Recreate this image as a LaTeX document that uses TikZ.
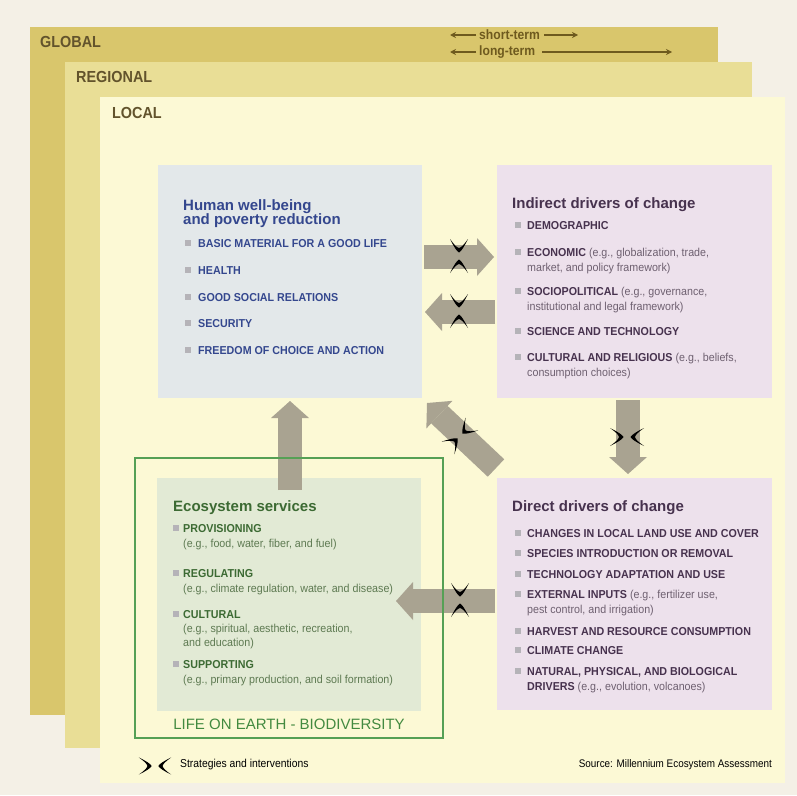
\documentclass[tikz,border=0pt]{standalone}
\usepackage{fontspec}
\setmainfont{Liberation Sans}
\newfontfamily\cnd[FakeStretch=0.93]{Liberation Sans}
\newfontfamily\cndd[FakeStretch=0.9]{Liberation Sans}
\usetikzlibrary{arrows.meta,calc}
\definecolor{bg}{HTML}{F4F0E6}
\definecolor{cglobal}{HTML}{D9C66C}
\definecolor{cregional}{HTML}{E9DE96}
\definecolor{clocal}{HTML}{FCF9D5}
\definecolor{chw}{HTML}{E3E8EA}
\definecolor{cpur}{HTML}{EDE1EC}
\definecolor{ceco}{HTML}{E2EAD5}
\definecolor{carrow}{HTML}{A9A391}
\definecolor{cframe}{HTML}{55A055}
\definecolor{tscale}{HTML}{62532C}
\definecolor{tblue}{HTML}{34478E}
\definecolor{tpur}{HTML}{47324E}
\definecolor{tpurl}{HTML}{6E6070}
\definecolor{tgreen}{HTML}{3C6A33}
\definecolor{tgreenl}{HTML}{5E7A52}
\definecolor{cbullet}{HTML}{B5B3B8}
\definecolor{tarr}{HTML}{6E5A1E}
\definecolor{tlife}{HTML}{438A40}
\begin{document}
\begin{tikzpicture}[x=1pt,y=-1pt,
  zone/.style={inner sep=0pt, outer sep=0pt, anchor=north west},
  zonelbl/.style={anchor=west, inner sep=0pt, font=\cndd\bfseries\fontsize{16}{16}\selectfont, text=tscale},
  card/.style={inner sep=0pt, outer sep=0pt, anchor=north west},
  ttl/.style={anchor=north west, inner sep=0pt, align=left, font=\bfseries\fontsize{15}{14.5}\selectfont},
  itm/.style={anchor=north west, inner sep=0pt, align=left, font=\cnd\fontsize{11.5}{15}\selectfont},
  bitm/.style={itm, font=\cnd\bfseries\fontsize{11.5}{15}\selectfont},
  bul/.style={fill=cbullet, minimum size=6pt, inner sep=0pt, anchor=center},
  bigarrow/.style={draw=carrow, line width=24pt, -{Triangle[length=17pt,width=38pt,line width=0pt]}},
  scl/.style={anchor=west, inner sep=0pt, text=tarr, font=\cndd\bfseries\fontsize{13.5}{14}\selectfont},
  sclarrow/.style={draw=tarr, line width=1.1pt, -{Stealth[length=6pt,width=6pt]}},
  strat/.pic={
    \fill[black] (-9,-17) .. controls (-5,-9) and (-2.5,-5) .. (0,-3.5)
      .. controls (2.5,-5) and (5,-9) .. (9,-17)
      .. controls (5,-11.5) and (2.5,-8.5) .. (0,-8)
      .. controls (-2.5,-8.5) and (-5,-11.5) .. (-9,-17) -- cycle;
    \fill[black] (-9,17) .. controls (-5,9) and (-2.5,5) .. (0,3.5)
      .. controls (2.5,5) and (5,9) .. (9,17)
      .. controls (5,11.5) and (2.5,8.5) .. (0,8)
      .. controls (-2.5,8.5) and (-5,11.5) .. (-9,17) -- cycle;
  }]
\useasboundingbox (0,0) rectangle (797,795);
\fill[bg] (0,0) rectangle (797,795);

% scale zones
\node[zone, fill=cglobal, minimum width=688pt, minimum height=688pt] (global) at (30,27) {};
\node[zone, fill=cregional, minimum width=687pt, minimum height=686pt] (regional) at (65,62) {};
\node[zone, fill=clocal, minimum width=685pt, minimum height=686pt] (local) at (100,97) {};
\node[zonelbl] (tglobal) at (40,42) {GLOBAL};
\node[zonelbl] (tregional) at (76,77) {REGIONAL};
\node[zonelbl] (tlocal) at (112,113) {LOCAL};

% time scale
\node[scl] (tshort) at (479,35) {short-term};
\node[scl] (tlong) at (479,52) {long-term};
\coordinate (sl) at (450,35);
\coordinate (sr) at (578,35);
\coordinate (ll) at (450,52);
\coordinate (lr) at (672,52);
\draw[sclarrow] ([xshift=-3pt]tshort.west) -- (sl);
\draw[sclarrow] ([xshift=4pt]tshort.east) -- (sr);
\draw[sclarrow] ([xshift=-3pt]tlong.west) -- (ll);
\draw[sclarrow] ([xshift=7pt]tlong.east) -- (lr);

% cards
\node[card, fill=chw, minimum width=264pt, minimum height=233pt] (hw) at (158,165) {};
\node[card, fill=cpur, minimum width=275pt, minimum height=233pt] (ind) at (497,165) {};
\node[card, fill=cpur, minimum width=275pt, minimum height=232pt] (dir) at (497,478) {};
\node[card, fill=ceco, minimum width=264pt, minimum height=233pt] (eco) at (157,478) {};

% Human well-being
\node[ttl, text=tblue] (hwt) at (183,199) {Human well-being\\and poverty reduction};
\begin{scope}[every node/.append style={text=tblue}]
\node[bul] (hb1) at (188,243) {};
\node[bitm] (hi1) at (198,239) {BASIC MATERIAL FOR A GOOD LIFE};
\node[bul] (hb2) at (188,270) {};
\node[bitm] (hi2) at (198,266) {HEALTH};
\node[bul] (hb3) at (188,297) {};
\node[bitm] (hi3) at (198,293) {GOOD SOCIAL RELATIONS};
\node[bul] (hb4) at (188,323) {};
\node[bitm] (hi4) at (198,319) {SECURITY};
\node[bul] (hb5) at (188,350) {};
\node[bitm] (hi5) at (198,346) {FREEDOM OF CHOICE AND ACTION};
\end{scope}

% Indirect drivers
\node[ttl, text=tpur] (indt) at (512,197) {Indirect drivers of change};
\begin{scope}[every node/.append style={text=tpurl}]
\node[bul] (ib1) at (518,225) {};
\node[itm] (ii1) at (527,221) {\textcolor{tpur}{\bfseries DEMOGRAPHIC}};
\node[bul] (ib2) at (518,252) {};
\node[itm] (ii2) at (527,247.5) {\textcolor{tpur}{\bfseries ECONOMIC} (e.g., globalization, trade,\\market, and policy framework)};
\node[bul] (ib3) at (518,291) {};
\node[itm] (ii3) at (527,286.5) {\textcolor{tpur}{\bfseries SOCIOPOLITICAL} (e.g., governance,\\institutional and legal framework)};
\node[bul] (ib4) at (518,331) {};
\node[itm] (ii4) at (527,327) {\textcolor{tpur}{\bfseries SCIENCE AND TECHNOLOGY}};
\node[bul] (ib5) at (518,357) {};
\node[itm] (ii5) at (527,352.5) {\textcolor{tpur}{\bfseries CULTURAL AND RELIGIOUS} (e.g., beliefs,\\consumption choices)};
\end{scope}

% Direct drivers
\node[ttl, text=tpur] (dirt) at (512,500) {Direct drivers of change};
\begin{scope}[every node/.append style={text=tpurl}]
\node[bul] (db1) at (518,533) {};
\node[itm] (di1) at (527,529) {\textcolor{tpur}{\bfseries CHANGES IN LOCAL LAND USE AND COVER}};
\node[bul] (db2) at (518,553) {};
\node[itm] (di2) at (527,549) {\textcolor{tpur}{\bfseries SPECIES INTRODUCTION OR REMOVAL}};
\node[bul] (db3) at (518,574) {};
\node[itm] (di3) at (527,570) {\textcolor{tpur}{\bfseries TECHNOLOGY ADAPTATION AND USE}};
\node[bul] (db4) at (518,594) {};
\node[itm] (di4) at (527,589.5) {\textcolor{tpur}{\bfseries EXTERNAL INPUTS} (e.g., fertilizer use,\\pest control, and irrigation)};
\node[bul] (db5) at (518,631) {};
\node[itm] (di5) at (527,627) {\textcolor{tpur}{\bfseries HARVEST AND RESOURCE CONSUMPTION}};
\node[bul] (db6) at (518,650) {};
\node[itm] (di6) at (527,646) {\textcolor{tpur}{\bfseries CLIMATE CHANGE}};
\node[bul] (db7) at (518,671) {};
\node[itm] (di7) at (527,667) {\textcolor{tpur}{\bfseries NATURAL, PHYSICAL, AND BIOLOGICAL}\\\textcolor{tpur}{\bfseries DRIVERS} (e.g., evolution, volcanoes)};
\end{scope}

% Ecosystem services
\node[ttl, text=tgreen] (ecot) at (173,500) {Ecosystem services};
\begin{scope}[every node/.append style={text=tgreenl}]
\node[bul] (eb1) at (176,528) {};
\node[itm] (ei1) at (183,524) {\textcolor{tgreen}{\bfseries PROVISIONING}\\(e.g., food, water, fiber, and fuel)};
\node[bul] (eb2) at (176,573) {};
\node[itm] (ei2) at (183,569) {\textcolor{tgreen}{\bfseries REGULATING}\\(e.g., climate regulation, water, and disease)};
\node[bul] (eb3) at (176,614) {};
\node[itm, font=\cnd\fontsize{11.5}{14}\selectfont] (ei3) at (183,610) {\textcolor{tgreen}{\bfseries CULTURAL}\\(e.g., spiritual, aesthetic, recreation,\\and education)};
\node[bul] (eb4) at (176,664) {};
\node[itm] (ei4) at (183,660) {\textcolor{tgreen}{\bfseries SUPPORTING}\\(e.g., primary production, and soil formation)};
\end{scope}

% arrows
\draw[bigarrow] ([xshift=2pt]hw.east |- {(0,257)}) -- ([xshift=-3pt]ind.west |- {(0,257)});
\draw[bigarrow] ([xshift=-2pt]ind.west |- {(0,312)}) -- ([xshift=3pt]hw.east |- {(0,312)});
\draw[bigarrow] ([yshift=-2pt]ind.south -| {(628,0)}) -- ([yshift=4pt]dir.north -| {(628,0)});
\draw[bigarrow] ($(eco.north -| {(290,0)})+(0,12)$) -- ([yshift=-3pt]hw.south -| {(290,0)});
\draw[bigarrow] ([xshift=-2pt]dir.west |- {(0,601)}) -- ($(eco.east |- {(0,601)})+(-25,0)$);
\coordinate (dgs) at (496,468);
\coordinate (dge) at (427,403);
\draw[bigarrow] (dgs) -- (dge);

% frame
\node[zone, draw=cframe, line width=1.5pt, minimum width=308pt, minimum height=280pt] (frame) at (135,458) {};
\node[anchor=center, inner sep=0pt, text=tlife, font=\fontsize{15}{15}\selectfont] (life) at (289,724) {LIFE ON EARTH - BIODIVERSITY};

% strategies
\pic at (459,256) {strat};
\pic at (459,311) {strat};
\pic at (460,600) {strat};
\pic[rotate=90] at (627,437) {strat};
\pic[rotate=-45] at (460,436) {strat};

% legend
\pic[rotate=90, scale=0.95] at (155,766) {strat};
\node[anchor=west, inner sep=0pt, font=\cndd\fontsize{11.5}{12}\selectfont] (leg) at (180,765) {Strategies and interventions};
\node[anchor=east, inner sep=0pt, font=\cndd\fontsize{11}{12}\selectfont] (src) at (772,765) {Source: Millennium Ecosystem Assessment};
\end{tikzpicture}
\end{document}
